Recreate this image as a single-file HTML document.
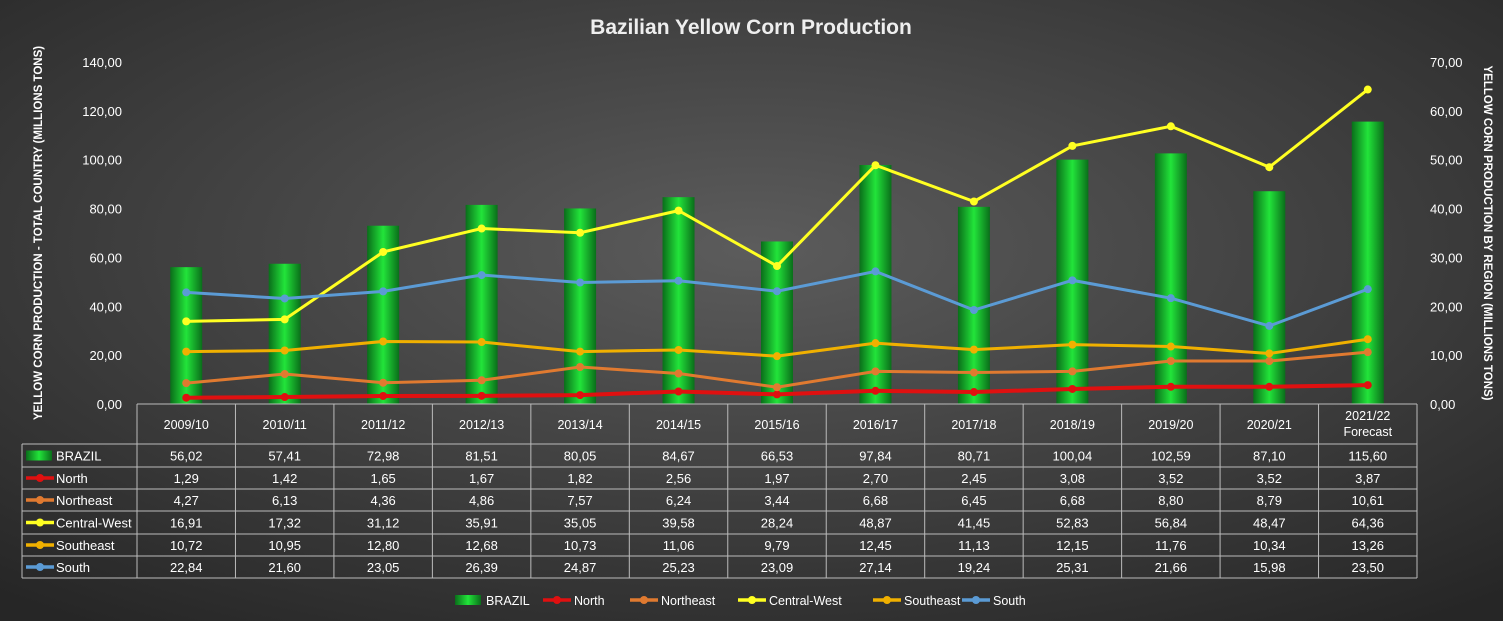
<!DOCTYPE html>
<html><head><meta charset="utf-8"><style>
body{margin:0;width:1503px;height:621px;overflow:hidden;background:#333;}
svg{display:block;font-family:"Liberation Sans",sans-serif;}
</style></head><body>
<svg id="c" width="1503" height="621" xmlns="http://www.w3.org/2000/svg">
<defs>
<radialGradient id="bg" cx="50%" cy="40%" r="75%"><stop offset="0" stop-color="#5c5c5c"/><stop offset="1" stop-color="#262626"/></radialGradient>
<linearGradient id="bar" x1="0" x2="1"><stop offset="0" stop-color="#0a6e1a"/><stop offset="0.5" stop-color="#22e43a"/><stop offset="1" stop-color="#0a6e1a"/></linearGradient>
</defs>
<rect width="1503" height="621" fill="url(#bg)"/>
<text x="751" y="34" text-anchor="middle" fill="#eee" font-size="21" font-weight="bold">Bazilian Yellow Corn Production</text>
<text transform="translate(42,233) rotate(-90)" text-anchor="middle" fill="#fff" font-size="11.5" font-weight="bold">YELLOW CORN PRODUCTION - TOTAL COUNTRY (MILLIONS TONS)</text>
<text transform="translate(1484,233) rotate(90)" text-anchor="middle" fill="#fff" font-size="11.5" font-weight="bold">YELLOW CORN PRODUCTION BY REGION (MILLIONS TONS)</text>
<g id="g"></g>
</svg>
<script>
const categories=["2009/10","2010/11","2011/12","2012/13","2013/14","2014/15","2015/16","2016/17","2017/18","2018/19","2019/20","2020/21","2021/22|Forecast"];
const brazil=[56.02,57.41,72.98,81.51,80.05,84.67,66.53,97.84,80.71,100.04,102.59,87.10,115.60];
const north=[1.29,1.42,1.65,1.67,1.82,2.56,1.97,2.70,2.45,3.08,3.52,3.52,3.87];
const northeast=[4.27,6.13,4.36,4.86,7.57,6.24,3.44,6.68,6.45,6.68,8.80,8.79,10.61];
const centralWest=[16.91,17.32,31.12,35.91,35.05,39.58,28.24,48.87,41.45,52.83,56.84,48.47,64.36];
const southeast=[10.72,10.95,12.80,12.68,10.73,11.06,9.79,12.45,11.13,12.15,11.76,10.34,13.26];
const south=[22.84,21.60,23.05,26.39,24.87,25.23,23.09,27.14,19.24,25.31,21.66,15.98,23.50];
const leftTicks=[0,20,40,60,80,100,120,140];
const rightTicks=[0,10,20,30,40,50,60,70];
const NS="http://www.w3.org/2000/svg";
const g=document.getElementById('g');
const X0=137,X1=1417,Y0=404,Y1=62,cw=(X1-X0)/categories.length;
const xc=i=>X0+cw*(i+0.5);
const yL=v=>Y0-(v/140)*(Y0-Y1);
const yR=v=>Y0-(v/70)*(Y0-Y1);
function el(t,a,p){const e=document.createElementNS(NS,t);for(const k in a)e.setAttribute(k,a[k]);(p||g).appendChild(e);return e;}
const fmt=v=>v.toFixed(2).replace('.',',');
leftTicks.forEach(v=>{const t=el('text',{x:122,y:yL(v)+5,'text-anchor':'end',fill:'#fff','font-size':13});t.textContent=fmt(v);

});
rightTicks.forEach(v=>{const t=el('text',{x:1430,y:yR(v)+5,fill:'#fff','font-size':13});t.textContent=fmt(v);

});
brazil.forEach((v,i)=>{const r=el('rect',{x:xc(i)-16,y:yL(v),width:32,height:Y0-yL(v),fill:'url(#bar)'});

});
const series=[["North",north,"#e01010",4],["Northeast",northeast,"#e07a30",3],["Central-West",centralWest,"#ffff22",3],["Southeast",southeast,"#f0b000",3],["South",south,"#5b9bd5",3]];
series.forEach(([n,d,c,w])=>{
 const p=el('polyline',{points:d.map((v,i)=>xc(i)+','+yR(v)).join(' '),fill:'none',stroke:c,'stroke-width':w});
 
 
 d.forEach((v,i)=>{const m=el('circle',{cx:xc(i),cy:yR(v),r:4,fill:c});
 
 });
});
const rows=[["BRAZIL",brazil,null],...series.map(s=>[s[0],s[1],s[2]])];
const rowY=[444,467,489,511,534,556,578];
const L='#bbb';
el('line',{x1:X0,y1:404,x2:X1,y2:404,stroke:L});
el('line',{x1:22,y1:444,x2:X1,y2:444,stroke:L});
rowY.slice(1).forEach(y=>el('line',{x1:22,y1:y,x2:X1,y2:y,stroke:L}));
el('line',{x1:22,y1:444,x2:22,y2:578,stroke:L});
for(let i=0;i<=categories.length;i++)el('line',{x1:X0+cw*i,y1:404,x2:X0+cw*i,y2:578,stroke:L});
categories.forEach((c,i)=>{const parts=c.split('|');parts.forEach((p,k)=>{
 const t=el('text',{x:xc(i),y:(parts.length>1?420+k*16:429),'text-anchor':'middle',fill:'#fff','font-size':12.5});t.textContent=p;
 
 });});
function icon(n,c,x,y){
 if(!c){el('rect',{x:x,y:y-5,width:26,height:10,fill:'url(#bar)'});}
 else{el('line',{x1:x,y1:y,x2:x+28,y2:y,stroke:c,'stroke-width':3.5});el('circle',{cx:x+14,cy:y,r:4,fill:c});}
}
rows.forEach(([n,d,c],r)=>{
 const y=(rowY[r]+rowY[r+1])/2;
 icon(n,c,26,y);
 const t=el('text',{x:56,y:y+5,fill:'#fff','font-size':13});t.textContent=n;
 
 
 d.forEach((v,i)=>{const u=el('text',{x:xc(i),y:y+5,'text-anchor':'middle',fill:'#fff','font-size':13});u.textContent=fmt(v);
 
 });
});
const lx=[455,543,630,738,873,962];
rows.forEach(([n,d,c],i)=>{
 icon(n,c,lx[i],600);
 const t=el('text',{x:lx[i]+31,y:605,fill:'#fff','font-size':12.5});t.textContent=n;
 
 
});
</script>
</body></html>
